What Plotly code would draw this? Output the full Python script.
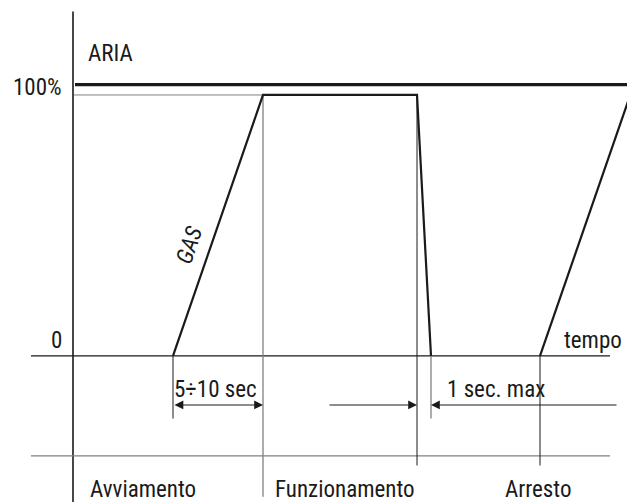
import plotly.graph_objects as go

# time axis (arbitrary units), level axis in percent
gas_t = [10.0, 19.0, 34.4, 35.8]
gas_level = [0, 100, 100, 0]
stop_ramp_t = [46.7, 56.0]
stop_ramp_level = [0, 103]
aria_level = 104
t_end = 55.4
phase_t = [19.0, 34.4, 46.7]          # phase separators
phase_labels = ["Avviamento", "Funzionamento", "Arresto"]
phase_label_t = [1.5, 20.0, 43.0]
level_ticks = [0, 100]
level_tick_labels = ["0", "100%"]

FONT = "Liberation Sans Narrow, Roboto Condensed, DejaVu Sans Condensed, Arial Narrow, sans-serif"
BLACK = "#1a1a1a"
GRAY = "#808080"

fig = go.Figure()

# GAS curve
fig.add_trace(go.Scatter(x=gas_t, y=gas_level, mode="lines",
                         line=dict(color=BLACK, width=2.2), hoverinfo="skip"))
fig.add_trace(go.Scatter(x=stop_ramp_t, y=stop_ramp_level, mode="lines",
                         line=dict(color=BLACK, width=2.2), hoverinfo="skip"))
# ARIA line
fig.add_trace(go.Scatter(x=[0.2, t_end], y=[aria_level, aria_level], mode="lines",
                         line=dict(color=BLACK, width=3.2), hoverinfo="skip"))

def seg(x0, y0, x1, y1, color=BLACK, width=1.2):
    fig.add_shape(type="line", x0=x0, y0=y0, x1=x1, y1=y1, xref="x", yref="y",
                  line=dict(color=color, width=width), layer="below")

# vertical axis
seg(0, -56, 0, 132, BLACK, 1.6)
# zero line and lower line
seg(-4.2, 0, 53.7, 0, BLACK, 1.3)
seg(-4.2, -38.3, 53.7, -38.3, GRAY, 1.3)
# 100% thin gray line
seg(0.1, 100, gas_t[1], 100, GRAY, 1.0)
# separators
seg(phase_t[0], 100, phase_t[0], -54, GRAY, 1.3)
seg(phase_t[1], 100, phase_t[1], -42, BLACK, 1.0)
seg(phase_t[2], 0, phase_t[2], -42, BLACK, 1.0)
seg(gas_t[0], 0, gas_t[0], -24, BLACK, 1.0)
seg(gas_t[3], 0, gas_t[3], -24, GRAY, 1.3)

arrow_y = -18.8
def arrow(x_from, x_to, both=False):
    fig.add_annotation(x=x_to, y=arrow_y, ax=x_from, ay=arrow_y, xref="x", yref="y",
                       axref="x", ayref="y", text="", showarrow=True,
                       arrowhead=2, arrowsize=1.6, arrowwidth=1.1, arrowcolor=BLACK,
                       arrowside="end+start" if both else "end",
                       startarrowhead=2, startarrowsize=1.6)

arrow(gas_t[0], phase_t[0], both=True)
arrow(25.5, phase_t[1])
arrow(54.5, gas_t[3])

def label(x, y, text, xanchor="left", size=23, angle=0):
    fig.add_annotation(x=x, y=y, xref="x", yref="y", text=text, showarrow=False,
                       xanchor=xanchor, yanchor="middle", textangle=angle,
                       font=dict(family=FONT, size=size, color=BLACK))

label(1.3, 115.8, "ARIA")
label(-0.9, 6.0, level_tick_labels[0], xanchor="right")
label(-0.9, 103.0, level_tick_labels[1], xanchor="right")
label(48.9, 5.8, "tempo")
label(9.9, -12.8, "5÷10 sec")
label(37.2, -12.8, "1 sec. max")
for x, s in zip(phase_label_t, phase_labels):
    label(x, -51.2, s)
label(11.6, 42.5, "<i>GAS</i>", xanchor="center", angle=-71)

fig.update_layout(
    width=627, height=502, margin=dict(l=0, r=0, t=0, b=0),
    paper_bgcolor="white", plot_bgcolor="white", showlegend=False,
    xaxis=dict(range=[-7.3, 55.4], visible=False, fixedrange=True),
    yaxis=dict(range=[-56.0, 136.4], visible=False, fixedrange=True),
)

fig.write_html("out.html", config={"displayModeBar": False},
               post_script="document.body.style.margin='0';document.body.style.padding='0';")
